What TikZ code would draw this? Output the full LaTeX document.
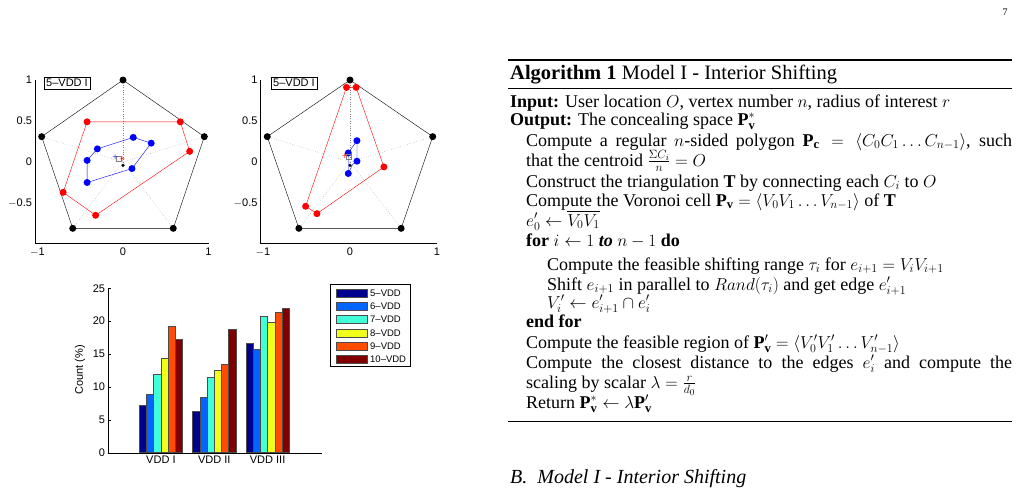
\documentclass[tikz,border=0pt]{standalone}
\usepackage{fontspec}
\setmainfont{Liberation Serif}
\setsansfont{Liberation Sans}
\usepackage{amsmath}
\usepackage{amssymb}
\usetikzlibrary{positioning}
\definecolor{jet1}{rgb}{0,0,0.56}
\definecolor{jet2}{rgb}{0,0.4,1}
\definecolor{jet3}{rgb}{0.25,1,0.85}
\definecolor{jet4}{rgb}{0.95,1,0.1}
\definecolor{jet5}{rgb}{1,0.3,0}
\definecolor{jet6}{rgb}{0.5,0,0}
\tikzset{
  pt/.style={circle,fill=#1,inner sep=0pt,minimum size=7pt},
  tick/.style={font=\sffamily\fontsize{11}{12}\selectfont,inner sep=1pt},
  spoke/.style={gray,dotted},
  bar/.style={draw=black!70,line width=0.5pt},
  alg/.style={anchor=base west,inner sep=0pt,font=\fontsize{18}{19}\selectfont},
}
\begin{document}
\begin{tikzpicture}[x=1pt,y=-1pt]
    \useasboundingbox (0,0) rectangle (1018,490);
    \node [font=\fontsize{10}{10}\selectfont] (pg) at (1005,12) {7};

    %% first pentagon plot
    \begin{scope}[shift={(123,162)},x=85.5pt,y=82pt]
      \draw (-1.03,1) -- (-1.03,-0.99) -- (1,-0.99);
      \foreach \y/\t in {1/1,0.5/0.5,0/0,-0.5/$-$0.5} \node [tick,anchor=east] at (-1.05,\y) {\t};
      \foreach \x/\t in {-1/$-$1,0/0,1/1} \node [tick,anchor=north] at (\x,-1.03) {\t};
      \foreach \a in {90,18,-54,-126,162} \draw [spoke] (0,0) -- (\a:1);
      \draw (90:1) -- (18:1) -- (-54:1) -- (-126:1) -- (162:1) -- cycle;
      \foreach \a in {90,18,-54,-126,162} \node [pt=black] at (\a:1) {};
      \draw [red] (-0.42,0.49) -- (0.67,0.49) -- (0.78,0.13) -- (-0.32,-0.65) -- (-0.70,-0.37) -- cycle;
      \foreach \p in {(-0.42,0.49),(0.67,0.49),(0.78,0.13),(-0.32,-0.65),(-0.70,-0.37)} \node [pt=red] at \p {};
      \draw [blue] (0.12,0.30) -- (0.33,0.23) -- (0.105,-0.08) -- (-0.42,-0.25) -- (-0.42,0.02) -- (-0.30,0.16) -- cycle;
      \foreach \p in {(0.12,0.30),(0.33,0.23),(0.105,-0.08),(-0.42,-0.25),(-0.42,0.02),(-0.30,0.16)} \node [pt=blue] at \p {};
      \node [circle,fill=black,inner sep=0pt,minimum size=3.5pt] (o1) at (0,-0.04) {};
      \node [draw=gray,inner sep=0pt,minimum size=5pt] at (-0.05,0.04) {};
      \node [blue,inner sep=0pt] at (-0.09,0.05) {+};
      \node [red,inner sep=0pt] at (-0.01,0.03) {+};
    \end{scope}
    \node [draw,tick,inner sep=2pt] (lg1) at (67,83) {5--VDD I};

    %% second pentagon plot
    \begin{scope}[shift={(350,162)},x=87pt,y=82pt]
      \draw (-1.03,1) -- (-1.03,-0.99) -- (1,-0.99);
      \foreach \y/\t in {1/1,0.5/0.5,0/0,-0.5/$-$0.5} \node [tick,anchor=east] at (-1.05,\y) {\t};
      \foreach \x/\t in {-1/$-$1,0/0,1/1} \node [tick,anchor=north] at (\x,-1.03) {\t};
      \foreach \a in {90,18,-54,-126,162} \draw [spoke] (0,0) -- (\a:1);
      \draw (90:1) -- (18:1) -- (-54:1) -- (-126:1) -- (162:1) -- cycle;
      \foreach \a in {90,18,-54,-126,162} \node [pt=black] at (\a:1) {};
      \draw [red] (-0.04,0.91) -- (0.07,0.91) -- (0.39,-0.06) -- (-0.38,-0.63) -- (-0.51,-0.54) -- cycle;
      \foreach \p in {(-0.04,0.91),(0.07,0.91),(0.39,-0.06),(-0.38,-0.63),(-0.51,-0.54)} \node [pt=red] at \p {};
      \draw [blue] (-0.02,0.11) -- (0.08,0.26) -- (0.08,0.01) -- (0.03,-0.03) -- (-0.02,-0.14) -- cycle;
      \foreach \p in {(-0.02,0.11),(0.08,0.26),(0.08,0.01),(-0.02,-0.14)} \node [pt=blue] at \p {};
      \node [circle,fill=black,inner sep=0pt,minimum size=3.5pt] (o2) at (0,-0.04) {};
      \node [draw=gray,inner sep=0pt,minimum size=5pt] at (-0.01,0.06) {};
      \node [red,inner sep=0pt] at (-0.06,0.07) {+};
    \end{scope}
    \node [draw,tick,inner sep=2pt] (lg2) at (294,83) {5--VDD I};

    %% bar chart
    \begin{scope}[shift={(108.3,452.7)},x=1pt,y=6.577pt]
      \draw (0,25) -- (0,0) -- (213.4,0);
      \foreach \t in {0,5,...,25} {
        \draw (0,\t) -- (3,\t);
        \node [tick,anchor=east] at (-2,\t) {\t};
      }
      \foreach \v [count=\i] in {7.2,8.9,12.0,14.4,19.3,17.2}
        \draw [bar,fill=jet\i] ({31+(\i-1)*7.2},0) rectangle ++(7.2,\v);
      \foreach \v [count=\i] in {6.3,8.4,11.4,12.6,13.4,18.7}
        \draw [bar,fill=jet\i] ({84.4+(\i-1)*7.2},0) rectangle ++(7.2,\v);
      \foreach \v [count=\i] in {16.6,15.7,20.7,19.8,21.4,21.9}
        \draw [bar,fill=jet\i] ({137.7+(\i-1)*7.2},0) rectangle ++(7.2,\v);
      \node [tick,anchor=north] (g1) at (52.6,-0.3) {VDD I};
      \node [tick,anchor=north] (g2) at (106,-0.3) {VDD II};
      \node [tick,anchor=north] (g3) at (159.3,-0.3) {VDD III};
    \end{scope}
    \node [tick,rotate=90] (cnt) at (80,370) {Count (\%)};
    \draw (330,284) rectangle (410,366);
    \foreach \n [count=\i] in {5,...,10} {
      \draw [bar,fill=jet\i] (336,{289+13.3*(\i-1)}) rectangle ++(31,8);
      \node [tick,anchor=west,font=\sffamily\fontsize{9.5}{10}\selectfont] at (369,{293+13.3*(\i-1)}) {\n--VDD};
    }

    %% algorithm box
    \draw [line width=1.4pt] (508,60) -- (1012,60);
    \draw [line width=0.7pt] (508,88) -- (1012,88);
    \draw [line width=0.7pt] (508,421) -- (1012,421);
    \node [alg,font=\fontsize{20.5}{22}\selectfont] (title) at (510,79) {\textbf{Algorithm 1} Model I - Interior Shifting};
    \node [alg] (l1) at (510,107) {\textbf{Input:} User location $O$, vertex number $n$, radius of interest $r$};
    \node [alg] (l2) at (510,125) {\textbf{Output:} The concealing space $\mathbf{P}^*_{\mathbf{v}}$};
    \node [alg] (l3) at (526,146) {\makebox[486pt][s]{Compute a regular $n$-sided polygon $\mathbf{P}_{\mathbf{c}}=\langle C_0C_1\ldots C_{n-1}\rangle$, such}};
    \node [alg] (l4) at (526,166) {that the centroid $\frac{\Sigma C_i}{n}=O$};
    \node [alg] (l5) at (526,187) {Construct the triangulation $\mathbf{T}$ by connecting each $C_i$ to $O$};
    \node [alg] (l6) at (526,206) {Compute the Voronoi cell $\mathbf{P}_{\mathbf{v}}=\langle V_0V_1\ldots V_{n-1}\rangle$ of $\mathbf{T}$};
    \node [alg] (l7) at (526,226) {$e'_0\leftarrow\overline{V_0V_1}$};
    \node [alg] (l8) at (526,246) {\textbf{for} $i\leftarrow1$ \textbf{\textit{to}} $n-1$ \textbf{do}};
    \node [alg] (l9) at (547,270) {Compute the feasible shifting range $\tau_i$ for $e_{i+1}=V_iV_{i+1}$};
    \node [alg] (l10) at (547,290) {Shift $e_{i+1}$ in parallel to $Rand(\tau_i)$ and get edge $e'_{i+1}$};
    \node [alg] (l11) at (547,308) {$V'_i\leftarrow e'_{i+1}\cap e'_i$};
    \node [alg] (l12) at (526,327) {\textbf{end for}};
    \node [alg] (l13) at (526,348) {Compute the feasible region of $\mathbf{P}'_{\mathbf{v}}=\langle V'_0V'_1\ldots V'_{n-1}\rangle$};
    \node [alg] (l14) at (526,368) {\makebox[486pt][s]{Compute the closest distance to the edges $e'_i$ and compute the}};
    \node [alg] (l15) at (526,388) {scaling by scalar $\lambda=\frac{r}{d_0}$};
    \node [alg] (l16) at (526,408) {Return $\mathbf{P}^*_{\mathbf{v}}\leftarrow\lambda\mathbf{P}'_{\mathbf{v}}$};
    \node [alg,font=\fontsize{20}{22}\selectfont] (sec) at (510,483) {\textit{B.\ \ Model I - Interior Shifting}};
\end{tikzpicture}
\end{document}
